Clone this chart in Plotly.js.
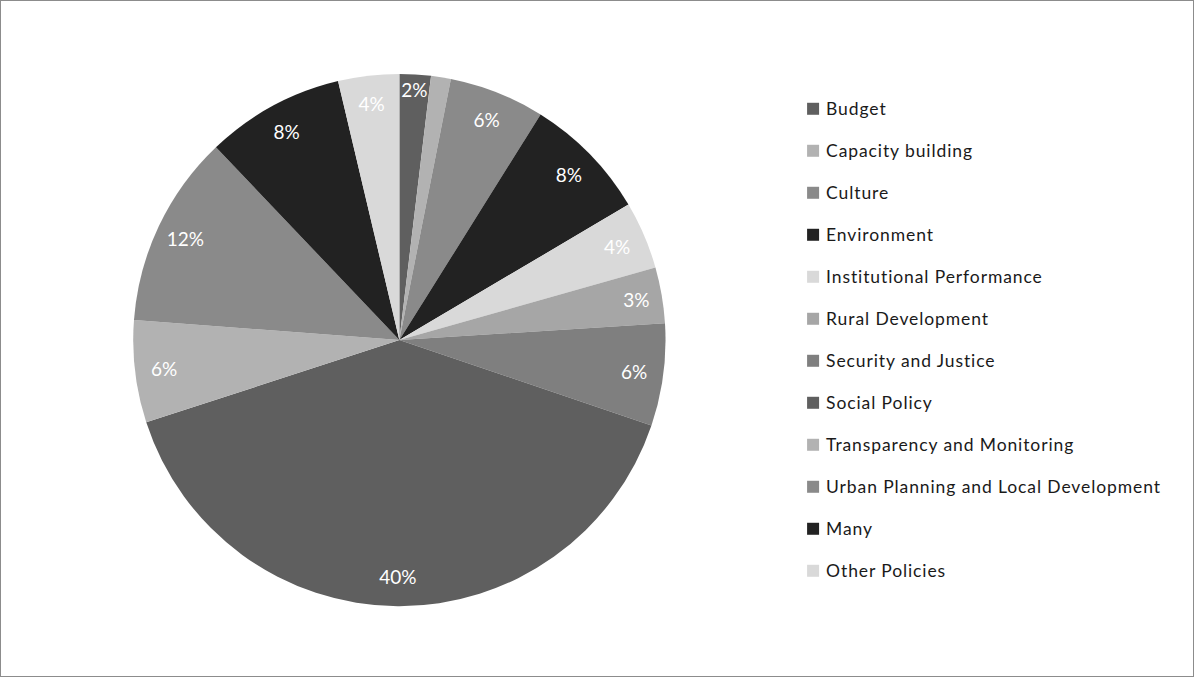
<!DOCTYPE html>
<html>
<head>
<meta charset="utf-8">
<script src="https://cdn.plot.ly/plotly-3.0.1.min.js"></script>
<style>
  html, body { margin: 0; padding: 0; background: #fff; }
  #chart { width: 1194px; height: 677px; box-sizing: border-box; border: 1px solid #8c8c8c; }
  #chart .legendtext { font-size: 17.5px !important; letter-spacing: 0.9px; transform: translateX(-7px); }
  #chart .legend .scrollbox, #chart .legend g { clip-path: none !important; }
</style>
</head>
<body>
<div id="chart"></div>
<script>
const categories = [
  "Budget", "Capacity building", "Culture", "Environment", "Institutional Performance",
  "Rural Development", "Security and Justice", "Social Policy", "Transparency and Monitoring",
  "Urban Planning and Local Development", "Many", "Other Policies"
];
const shares = [1.9, 1.2, 5.8, 7.6, 4.1, 3.4, 6.2, 39.8, 6.2, 11.7, 8.4, 3.7];
const sliceColors = ["#5f5f5f", "#b2b2b2", "#8a8a8a", "#222222", "#d9d9d9", "#a6a6a6",
  "#7f7f7f", "#5f5f5f", "#b2b2b2", "#8a8a8a", "#222222", "#d9d9d9"];
const showLabel = [true, false, true, true, true, true, true, true, true, true, true, true];

const legendLabels = categories.map(c => c + "<br> ");
const pieDomain = { x: [0.1106, 0.5578], y: [0.1034, 0.892] };

// filled slices + legend
const slices = {
  type: "pie",
  labels: legendLabels,
  values: shares,
  sort: false,
  direction: "clockwise",
  rotation: 0,
  marker: { colors: sliceColors, line: { width: 0 } },
  textinfo: "none",
  hoverinfo: "label+percent",
  domain: pieDomain
};

// transparent ring carrying the percentage labels near the rim
const labelRing = {
  type: "pie",
  labels: legendLabels,
  values: shares,
  sort: false,
  direction: "clockwise",
  rotation: 0,
  hole: 0.78,
  showlegend: false,
  marker: { colors: sliceColors.map(() => "rgba(0,0,0,0)"), line: { width: 0 } },
  texttemplate: showLabel.map(s => s ? "%{percent:.0%}" : ""),
  textposition: "inside",
  insidetextorientation: "horizontal",
  textfont: { family: "Lato, sans-serif", size: 19, color: "#ffffff" },
  hoverinfo: "skip",
  domain: pieDomain
};

const layout = {
  width: 1192, height: 675,
  margin: { l: 0, r: 0, t: 0, b: 0 },
  paper_bgcolor: "#ffffff",
  showlegend: true,
  legend: {
    x: 0.6645, y: 0.8644, xanchor: "left", yanchor: "top",
    valign: "top",
    font: { family: "Lato, sans-serif", size: 15, color: "#1a1a1a" },
    bgcolor: "rgba(0,0,0,0)"
  },
  uniformtext: { minsize: 19, mode: "show" }
};

Plotly.newPlot("chart", [slices, labelRing], layout, { displayModeBar: false, staticPlot: true });
</script>
</body>
</html>
